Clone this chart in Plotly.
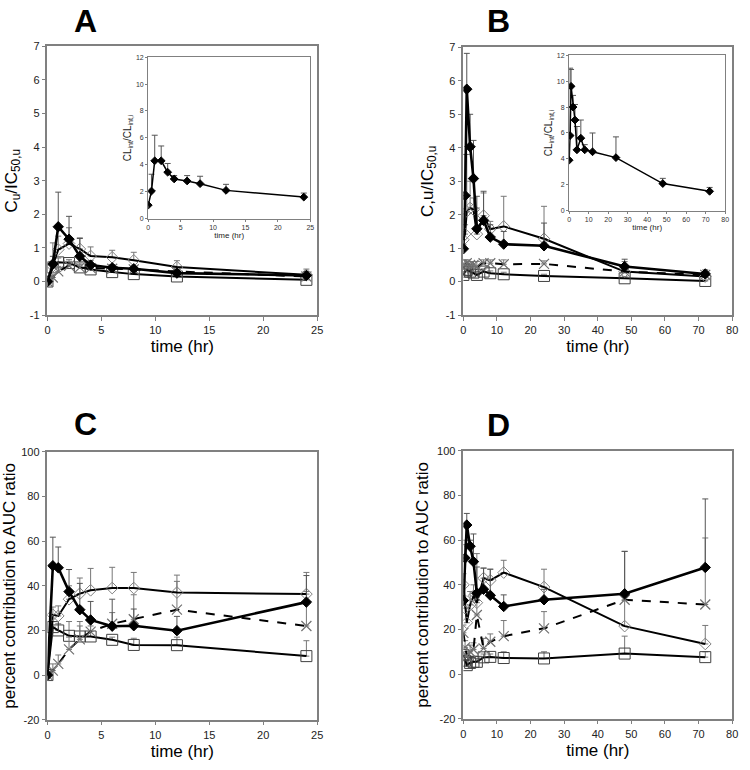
import plotly.graph_objects as go

# ---------------- data ----------------
t_A = [0, 0.5, 1, 2, 3, 4, 6, 8, 12, 24]
t_B = [0, 0.5, 1, 2, 3, 4, 6, 8, 12, 24, 48, 72]

# Panel A: Cu/IC50,u
A_fill = [0, 0.52, 1.63, 1.26, 0.75, 0.49, 0.41, 0.38, 0.25, 0.18]
A_fill_up = [0, 0.75, 2.66, 1.94, 1.28, 0.62, 0.50, 0.45, 0.35, 0.30]
A_open = [0, 0.45, 0.95, 1.13, 0.97, 0.76, 0.72, 0.63, 0.43, 0.20]
A_open_up = [0, 1.15, 1.35, 1.60, 1.30, 1.03, 0.93, 0.87, 0.62, 0.37]
A_x = [0, 0.12, 0.30, 0.47, 0.42, 0.40, 0.38, 0.36, 0.30, 0.15]
A_x_up = [0, 0.20, 0.45, 0.60, 0.55, 0.50, 0.48, 0.45, 0.40, 0.25]
A_sq = [0, 0.42, 0.57, 0.55, 0.42, 0.36, 0.28, 0.22, 0.15, 0.05]
A_sq_up = [0, 0.55, 0.70, 0.65, 0.50, 0.45, 0.35, 0.30, 0.20, 0.10]

# Inset A: CLint/CLint,i
IA = [1.0, 2.05, 4.3, 4.3, 3.45, 2.95, 2.8, 2.6, 2.1, 1.6]
IA_up = [1.0, 3.3, 6.2, 5.4, 4.1, 3.2, 3.2, 3.15, 2.55, 1.9]

# Panel B
B_fill = [0.98, 2.57, 5.75, 4.03, 3.08, 1.58, 1.83, 1.33, 1.12, 1.07, 0.45, 0.23]
B_fill_up = [1.10, 3.80, 6.82, 5.00, 4.22, 2.55, 2.70, 1.70, 1.50, 1.75, 0.67, 0.35]
B_open = [1.25, 1.42, 2.10, 2.20, 2.15, 1.42, 1.97, 1.57, 1.65, 1.28, 0.30, 0.15]
B_open_up = [1.50, 1.70, 3.80, 3.00, 2.50, 2.20, 2.65, 1.80, 2.55, 2.25, 0.60, 0.30]
B_x = [0.40, 0.50, 0.55, 0.50, 0.50, 0.45, 0.55, 0.55, 0.52, 0.53, 0.30, 0.20]
B_x_up = [0.55, 0.65, 0.65, 0.60, 0.60, 0.60, 0.65, 0.65, 0.65, 0.62, 0.38, 0.28]
B_sq = [0.20, 0.30, 0.35, 0.30, 0.27, 0.20, 0.30, 0.25, 0.22, 0.17, 0.10, 0.02]
B_sq_up = [0.30, 0.40, 0.45, 0.40, 0.35, 0.30, 0.38, 0.32, 0.28, 0.22, 0.15, 0.05]

# Inset B
IB = [3.9, 5.8, 9.6, 8.0, 7.0, 4.7, 5.6, 4.7, 4.55, 4.1, 2.1, 1.5]
IB_up = [3.9, 11.0, 10.9, 8.9, 8.2, 6.5, 7.0, 5.1, 6.0, 5.7, 2.5, 1.8]

# Panel C: percent contribution
C_fill = [0, 49.0, 48.1, 37.4, 29.3, 24.7, 21.9, 22.1, 19.9, 32.7]
C_fill_up = [0, 61.8, 57.4, 47.3, 41.1, 33.0, 34.0, 29.6, 26.3, 44.6]
C_open = [0, 27, 26.5, 34, 36.5, 38, 39, 39, 37, 36.3]
C_open_up = [0, 30.5, 31, 40, 43.5, 47.8, 48.3, 46, 44.8, 46]
C_x = [0, 2, 5, 11.5, 16, 19.5, 23, 25, 29.3, 22]
C_x_up = [0, 5, 9, 17, 22, 24, 28, 36, 42, 37.5]
C_sq = [0, 21.5, 20, 17.6, 17.3, 17.3, 15.8, 13.5, 13.4, 8.5]
C_sq_up = [0, 24, 23, 24, 24, 22, 17, 16.5, 17, 15.4]

# Panel D
D_fill = [33, 52, 66.8, 57.3, 50.4, 36.2, 38, 35.3, 30.3, 33.3, 36, 47.8]
D_fill_up = [35, 58, 72, 60, 62.8, 48, 47.5, 47, 35.5, 38, 55, 78.5]
D_open = [40, 29.5, 23, 31, 35, 32, 43, 42, 45.5, 39, 21.5, 13.5]
D_open_up = [45, 60, 30, 37, 40, 54, 47.5, 47, 51, 47, 33, 21.8]
D_x = [18.5, 12, 8, 10, 11, 26.5, 11.5, 14.5, 17, 20.5, 33.3, 31.2]
D_x_up = [22, 15, 10, 13, 14, 33, 16, 18, 24, 28, 55, 61]
D_sq = [8.5, 6, 4, 5, 5.5, 5.5, 7.5, 7.7, 7.2, 7, 9.2, 7.6]
D_sq_up = [10, 8, 6, 7, 7, 7, 9, 9, 10, 10, 17, 10]

# tick labels
tick_conc = [-1, 0, 1, 2, 3, 4, 5, 6, 7]
tick_conc_txt = ["-1", "0", "1", "2", "3", "4", "5", "6", "7"]
tick_pct = [-20, 0, 20, 40, 60, 80, 100]
tick_pct_txt = ["-20", "0", "20", "40", "60", "80", "100"]
tick_t24 = [0, 5, 10, 15, 20, 25]
tick_t72 = [0, 10, 20, 30, 40, 50, 60, 70, 80]
tick_inset = [0, 2, 4, 6, 8, 10, 12]

# ---------------- styles ----------------
STY = {
    "fill": dict(symbol="diamond", size=8, color="black", line=dict(color="black", width=1),
                 lw=2.6, dash="solid", ecol="#555"),
    "open": dict(symbol="diamond-open", size=9, color="#808080", line=dict(color="#808080", width=1),
                 lw=2.0, dash="solid", ecol="#777"),
    "x": dict(symbol="x-thin-open", size=10, color="#707070", line=dict(color="#707070", width=1.2),
              lw=2.0, dash="dash", ecol="#777"),
    "sq": dict(symbol="square-open", size=11, color="#404040", line=dict(color="#404040", width=1),
               lw=2.0, dash="solid", ecol="#777"),
}

fig = go.Figure()


def add(xa, ya, x, y, up, kind, msize=None, lw=None):
    s = STY[kind]
    err = [max(u - v, 0) for u, v in zip(up, y)]
    fig.add_trace(go.Scatter(
        x=x, y=y, xaxis=xa, yaxis=ya, mode="lines+markers", showlegend=False,
        line=dict(color="black", width=lw or s["lw"], dash=s["dash"]),
        marker=dict(symbol=s["symbol"], size=msize or s["size"], color=s["color"],
                    line=s["line"]),
        error_y=dict(type="data", symmetric=False, array=err, arrayminus=[0] * len(err),
                     color=s["ecol"], thickness=1, width=3),
    ))


for kind, y, up in [("sq", A_sq, A_sq_up), ("x", A_x, A_x_up), ("open", A_open, A_open_up), ("fill", A_fill, A_fill_up)]:
    add("x", "y", t_A, y, up, kind)
for kind, y, up in [("sq", B_sq, B_sq_up), ("x", B_x, B_x_up), ("open", B_open, B_open_up), ("fill", B_fill, B_fill_up)]:
    add("x2", "y2", t_B, y, up, kind)
for kind, y, up in [("sq", C_sq, C_sq_up), ("x", C_x, C_x_up), ("open", C_open, C_open_up), ("fill", C_fill, C_fill_up)]:
    add("x3", "y3", t_A, y, up, kind)
for kind, y, up in [("sq", D_sq, D_sq_up), ("x", D_x, D_x_up), ("open", D_open, D_open_up), ("fill", D_fill, D_fill_up)]:
    add("x4", "y4", t_B, y, up, kind)
add("x5", "y5", t_A, IA, IA_up, "fill", msize=6, lw=1.5)
add("x6", "y6", t_B, IB, IB_up, "fill", msize=6, lw=1.5)

W, H = 750, 770


def dx(a, b):
    return [a / W, b / W]


def dy(top, bot):
    return [1 - bot / H, 1 - top / H]


FONT = "Liberation Sans, Arial, sans-serif"
AX = dict(showgrid=False, zeroline=False, showline=True, mirror=True, linecolor="#808080",
          linewidth=1.5, ticks="outside", ticklen=4, tickcolor="#808080",
          tickfont=dict(size=11, family=FONT, color="#222"))
IAX = dict(showgrid=False, zeroline=False, showline=True, mirror=True, linecolor="#808080",
           linewidth=1.2, ticks="outside", ticklen=2, tickcolor="#808080",
           tickfont=dict(size=7, family=FONT, color="#333"))

main_title = dict(font=dict(size=17, family=FONT, color="black"))
inset_xtitle = dict(font=dict(size=8, family=FONT, color="#222"))
inset_ytitle = dict(font=dict(size=10, family=FONT, color="#222"))

fig.update_layout(
    width=W, height=H, margin=dict(l=0, r=0, t=0, b=0),
    plot_bgcolor="white", paper_bgcolor="white", font=dict(family=FONT),
    xaxis=dict(AX, domain=dx(45, 318), range=[0, 25], tickvals=tick_t24, anchor="y",
               title=dict(text="time (hr)", standoff=5, **main_title)),
    yaxis=dict(AX, domain=dy(41, 314), range=[-1, 7], tickvals=tick_conc, ticktext=tick_conc_txt, anchor="x",
               title=dict(text="C<sub>u</sub>/IC<sub>50,u</sub>", standoff=8, **main_title)),
    xaxis2=dict(AX, domain=dx(466, 738), range=[0, 80], tickvals=tick_t72, anchor="y2",
                title=dict(text="time (hr)", standoff=5, **main_title)),
    yaxis2=dict(AX, domain=dy(42, 314), range=[-1, 7], tickvals=tick_conc, ticktext=tick_conc_txt, anchor="x2",
                title=dict(text="C,u/IC<sub>50,u</sub>", standoff=8, **main_title)),
    xaxis3=dict(AX, domain=dx(45, 318), range=[0, 25], tickvals=tick_t24, anchor="y3",
                title=dict(text="time (hr)", standoff=5, **main_title)),
    yaxis3=dict(AX, domain=dy(453, 725), range=[-20, 100], tickvals=tick_pct, ticktext=tick_pct_txt, anchor="x3",
                title=dict(text="percent contribution to AUC ratio", standoff=4, **main_title)),
    xaxis4=dict(AX, domain=dx(466, 738), range=[0, 80], tickvals=tick_t72, anchor="y4",
                title=dict(text="time (hr)", standoff=5, **main_title)),
    yaxis4=dict(AX, domain=dy(452, 724), range=[-20, 100], tickvals=tick_pct, ticktext=tick_pct_txt, anchor="x4",
                title=dict(text="percent contribution to AUC ratio", standoff=4, **main_title)),
    xaxis5=dict(IAX, domain=dx(147, 311), range=[0, 25], tickvals=tick_t24, anchor="y5",
                title=dict(text="time (hr)", standoff=2, **inset_xtitle)),
    yaxis5=dict(IAX, domain=dy(52, 216), range=[0, 12], tickvals=tick_inset, anchor="x5",
                title=dict(text="CL<sub>int</sub>/CL<sub>int,i</sub>", standoff=2, **inset_ytitle)),
    xaxis6=dict(IAX, domain=dx(573, 731), range=[0, 80], tickvals=tick_t72, anchor="y6",
                title=dict(text="time (hr)", standoff=2, **inset_xtitle)),
    yaxis6=dict(IAX, domain=dy(50, 208), range=[0, 12], tickvals=tick_inset, anchor="x6",
                title=dict(text="CL<sub>int</sub>/CL<sub>int,i</sub>", standoff=2, **inset_ytitle)),
)

for letter, px, py in [("A", 83, 15), ("B", 502, 15), ("C", 83, 425), ("D", 502, 426)]:
    fig.add_annotation(text=f"<b>{letter}</b>", x=px / W, y=1 - py / H, xref="paper", yref="paper",
                       showarrow=False, xanchor="center", yanchor="middle",
                       font=dict(size=32, family=FONT, color="black"))

fig.write_html("out.html", config={"displayModeBar": False},
               post_script="document.body.style.margin='0';document.body.style.overflow='hidden';")
